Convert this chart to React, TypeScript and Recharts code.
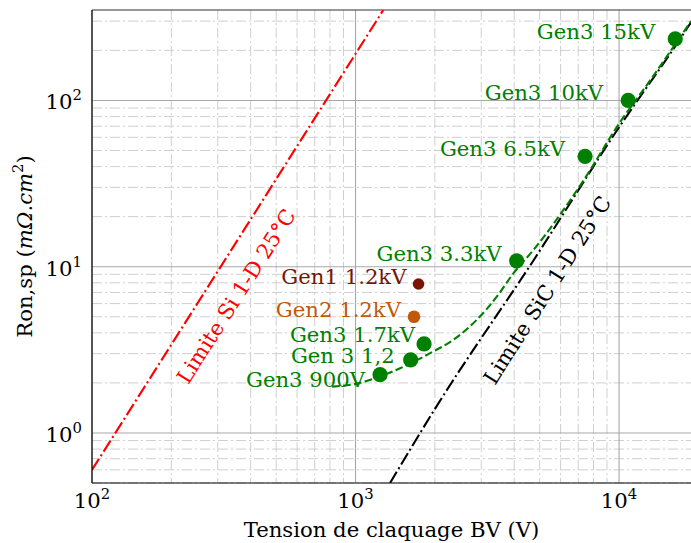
import React from "react";
import { ComposedChart, Line, Scatter, XAxis, YAxis, CartesianGrid, ReferenceLine, ReferenceDot } from "recharts";

// axes
const xMajor = [100, 1000, 10000];
const xMinor = [200, 300, 400, 500, 600, 700, 800, 900, 2000, 3000, 4000, 5000, 6000, 7000, 8000, 9000];
const yMajor = [1, 10, 100];
const yMinor = [0.5, 0.6, 0.7, 0.8, 0.9, 2, 3, 4, 5, 6, 7, 8, 9, 20, 30, 40, 50, 60, 70, 80, 90, 200, 300];

// limite Si 1-D 25°C
const siBV = [100, 1275];
const siRon = [0.6, 350];

// limite SiC 1-D 25°C
const sicBV = [1352, 2032, 4733, 10000, 16560, 18750];
const sicRon = [0.5, 1.45, 10.9, 69, 219, 295];

// tendance Gen3 (pointillés verts)
const fitBV = [815, 1009, 1250, 1476, 1919, 2350, 2884, 3436, 3973, 4732, 7328, 10000, 13120, 18750];
const fitRon = [1.9, 1.98, 2.2, 2.45, 3.02, 3.63, 4.79, 6.6, 9.12, 12.6, 33, 72.5, 132, 300];

// composants mesurés
const gen3Names = ["Gen3 900V", "Gen 3 1,2", "Gen3 1.7kV", "Gen3 3.3kV", "Gen3 6.5kV", "Gen3 10kV", "Gen3 15kV"];
const gen3BV = [1239, 1619, 1820, 4087, 7430, 10830, 16340];
const gen3Ron = [2.24, 2.75, 3.43, 10.85, 46.1, 100, 235];
const gen1BV = [1734];
const gen1Ron = [7.87];
const gen2BV = [1667];
const gen2Ron = [5.0];

// décalage des étiquettes (px, fin du texte / ligne de base)
const gen3Dx = [-15, -16, -9, -15, -20, -25, -20];
const gen3Dy = [12, 3, -2, 0, 0, 0, 0];

const FONT = "DejaVu Serif";
const FS = 21.2;

const zip = (bv: number[], ron: number[]) => bv.map((b, i) => ({ bv: b, ron: ron[i] }));
const siData = zip(siBV, siRon);
const sicData = zip(sicBV, sicRon);
const fitData = zip(fitBV, fitRon);
const gen3Data = gen3BV.map((b, i) => ({ bv: b, ron: gen3Ron[i], name: gen3Names[i], dx: gen3Dx[i], dy: gen3Dy[i] }));
const gen1Data = gen1BV.map((b, i) => ({ bv: b, ron: gen1Ron[i], name: "Gen1 1.2kV", dx: -12, dy: 0 }));
const gen2Data = gen2BV.map((b, i) => ({ bv: b, ron: gen2Ron[i], name: "Gen2 1.2kV", dx: -13, dy: 0 }));

const pow10 = (v: number) => Math.round(Math.log10(v));

const XTick = ({ x, y, payload }: any) => (
  <text x={x} y={y + 25} textAnchor="middle" fontSize={FS} fontFamily={FONT} fill="#000">
    10<tspan dy={-9} fontSize={14.8}>{pow10(payload.value)}</tspan>
  </text>
);

const YTick = ({ x, y, payload }: any) => (
  <text x={x - 10} y={y + 9} textAnchor="end" fontSize={FS} fontFamily={FONT} fill="#000">
    10<tspan dy={-9} fontSize={14.8}>{pow10(payload.value)}</tspan>
  </text>
);

const dotShape = (color: string, r: number) => (p: any) => {
  const { cx, cy, payload } = p;
  return (
    <g>
      <circle cx={cx} cy={cy} r={r} fill={color} />
      <text x={cx + payload.dx} y={cy + payload.dy} textAnchor="end" fontSize={FS} fontFamily={FONT} fill={color}>
        {payload.name}
      </text>
    </g>
  );
};

const rotatedLabel = (text: string, color: string) => (p: any) => {
  const vb = p.viewBox;
  const cx = vb.x + vb.width / 2;
  const cy = vb.y + vb.height / 2;
  return (
    <text x={cx} y={cy} textAnchor="middle" dominantBaseline="central" fontSize={FS} fontFamily={FONT} fill={color}
      transform={`rotate(-57.5 ${cx} ${cy})`}>
      {text}
    </text>
  );
};

const XLabel = (p: any) => {
  const vb = p.viewBox;
  return (
    <text x={vb.x + vb.width / 2} y={vb.y + 54} textAnchor="middle" fontSize={FS} fontFamily={FONT} fill="#000">
      Tension de claquage BV (V)
    </text>
  );
};

const YLabel = (p: any) => {
  const vb = p.viewBox;
  const x = 31.5;
  const y = vb.y + vb.height / 2;
  return (
    <text x={x} y={y} textAnchor="middle" fontSize={FS} fontFamily={FONT} fill="#000" transform={`rotate(-90 ${x} ${y})`}>
      Ron,sp (<tspan fontStyle="italic">mΩ</tspan>.<tspan fontStyle="italic">cm</tspan>
      <tspan dy={-9} fontSize={14.8}>2</tspan><tspan dy={9}>)</tspan>
    </text>
  );
};

export default function App() {
  return (
    <div style={{ position: "absolute", left: 0, top: 0, background: "#fff" }}>
      <ComposedChart width={691} height={543} margin={{ top: 10, right: 0, bottom: 0, left: 0 }}>
        <CartesianGrid horizontalValues={yMinor} verticalValues={xMinor} stroke="#cfcfcf" strokeWidth={1} strokeDasharray="10 3 2 3" />
        <CartesianGrid horizontalValues={yMajor} verticalValues={xMajor} stroke="#a8a8a8" strokeWidth={1.1} />
        <XAxis type="number" dataKey="bv" scale="log" domain={[100, 18750]} allowDataOverflow ticks={xMajor} interval={0}
          height={60} tickLine={false} tickSize={0} tickMargin={0} axisLine={{ stroke: "#000", strokeWidth: 1.2 }}
          tick={(p: any) => <XTick {...p} />} label={(p: any) => <XLabel {...p} />} />
        <YAxis type="number" dataKey="ron" scale="log" domain={[0.5, 350]} allowDataOverflow ticks={yMajor} interval={0}
          width={92} tickLine={false} tickSize={0} tickMargin={0} axisLine={{ stroke: "#000", strokeWidth: 1.2 }}
          tick={(p: any) => <YTick {...p} />} label={(p: any) => <YLabel {...p} />} />
        <ReferenceLine y={350} stroke="#333" strokeWidth={1.2} />
        <Line data={siData} dataKey="ron" type="linear" stroke="#ff0000" strokeWidth={2.1} strokeDasharray="13 3.3 2 3.3" dot={false} isAnimationActive={false} />
        <Line data={sicData} dataKey="ron" type="monotone" stroke="#000" strokeWidth={2.1} strokeDasharray="13 3.3 2 3.3" dot={false} isAnimationActive={false} />
        <Line data={fitData} dataKey="ron" type="monotone" stroke="#008000" strokeWidth={2.1} strokeDasharray="7.7 3.3" dot={false} isAnimationActive={false} />
        <Scatter data={gen3Data} fill="#008000" shape={dotShape("#008000", 7.6)} isAnimationActive={false} />
        <Scatter data={gen1Data} fill="#7b1405" shape={dotShape("#7b1405", 5.8)} isAnimationActive={false} />
        <Scatter data={gen2Data} fill="#c05a0a" shape={dotShape("#c05a0a", 6.3)} isAnimationActive={false} />
        <ReferenceDot x={352} y={6.66} r={0} fill="none" stroke="none" label={rotatedLabel("Limite Si 1-D 25°C", "#ff0000")} />
        <ReferenceDot x={5333} y={7.24} r={0} fill="none" stroke="none" label={rotatedLabel("Limite SiC 1-D 25°C", "#000")} />
      </ComposedChart>
    </div>
  );
}
